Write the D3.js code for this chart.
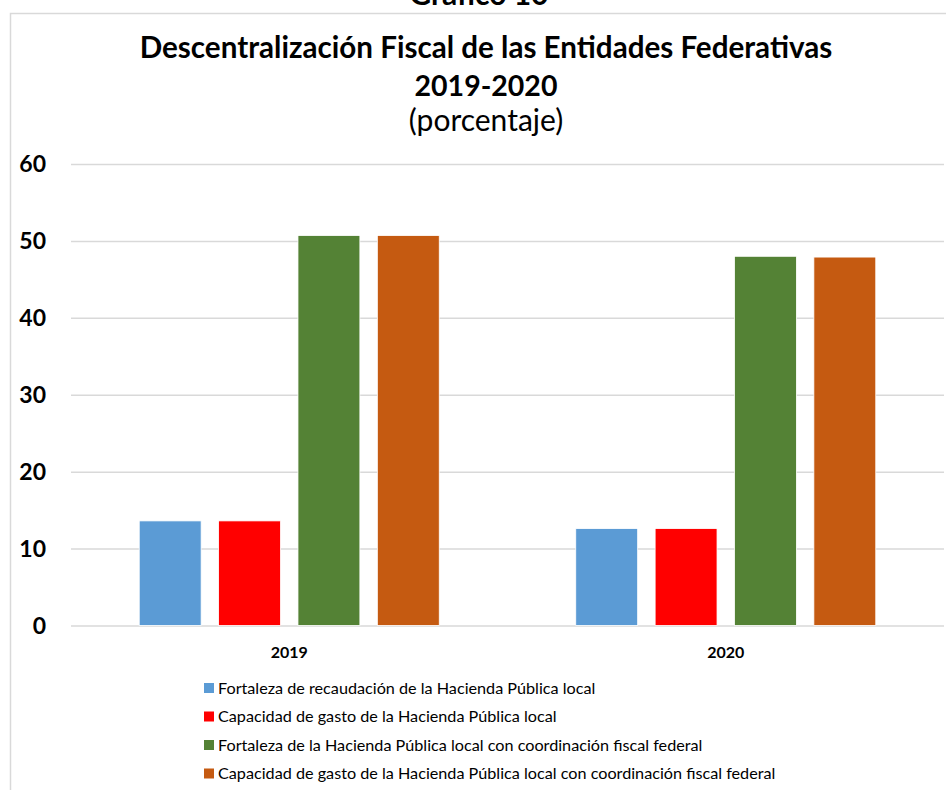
<!DOCTYPE html>
<html>
<head>
<meta charset="utf-8">
<script src="https://cdnjs.cloudflare.com/ajax/libs/d3/7.8.5/d3.min.js"></script>
<style>
  body { margin: 0; background: #fff; }
  svg { display: block; font-family: Lato, "Open Sans", sans-serif; }
  .grid line { stroke: #d9d9d9; stroke-width: 1.5; }
  .grid path { display: none; }
</style>
</head>
<body>
<div id="chart"></div>
<script>
// datos
var years = ["2019", "2020"];
var seriesNames = [
  "Fortaleza de recaudación de la Hacienda Pública local",
  "Capacidad de gasto de la Hacienda Pública local",
  "Fortaleza de la Hacienda Pública local con coordinación fiscal federal",
  "Capacidad de gasto de la Hacienda Pública local con coordinación fiscal federal"
];
var seriesColors = ["#5b9bd5", "#ff0000", "#548235", "#c55a11"];
var values2019 = [13.6, 13.6, 50.7, 50.7];
var values2020 = [12.6, 12.6, 48.0, 47.9];
var yTicks = [0, 10, 20, 30, 40, 50, 60];

var width = 946, height = 790;
var margin = {top: 164, right: 2, bottom: 164.5, left: 71};

var svg = d3.select("#chart").append("svg")
    .attr("width", width)
    .attr("height", height);

// marco del grafico
svg.append("path")
    .attr("d", "M10.5," + height + "V13.5H" + width)
    .attr("fill", "none")
    .attr("stroke", "#d9d9d9")
    .attr("stroke-width", 1.5);

// titulo de arriba, cortado por el borde (asi viene en el original)
svg.append("text")
    .attr("x", 479).attr("y", 5)
    .attr("text-anchor", "middle")
    .attr("font-weight", "bold")
    .attr("font-size", 30)
    .text("Gráfico 10");

var titles = [
  {t: "Descentralización Fiscal de las Entidades Federativas", y: 58, w: "bold", s: 29.6},
  {t: "2019-2020", y: 96, w: "bold", s: 28.5},
  {t: "(porcentaje)", y: 131, w: "normal", s: 30}
];
svg.selectAll("text.title")
  .data(titles)
  .enter().append("text")
    .attr("class", "title")
    .attr("x", 486)
    .attr("y", function(d) { return d.y; })
    .attr("text-anchor", "middle")
    .attr("font-weight", function(d) { return d.w; })
    .attr("font-size", function(d) { return d.s; })
    .attr("fill", "#000")
    .text(function(d) { return d.t; });

var x0 = d3.scaleBand()
    .domain(years)
    .range([margin.left, width - margin.right])
    .paddingInner(0.3127)
    .paddingOuter(0.1563);

var x1 = d3.scaleBand()
    .domain(d3.range(seriesNames.length))
    .range([0, x0.bandwidth()])
    .paddingInner(0.22)
    .paddingOuter(0);

var y = d3.scaleLinear()
    .domain([0, 60])
    .range([height - margin.bottom, margin.top]);

// lineas de cuadricula
svg.append("g")
    .attr("class", "grid")
    .attr("transform", "translate(" + margin.left + ",0)")
    .call(d3.axisLeft(y).tickValues(yTicks).tickSize(-(width - margin.right - margin.left)).tickFormat(""));

// etiquetas del eje y
svg.append("g")
  .selectAll("text")
  .data(yTicks)
  .enter().append("text")
    .attr("x", 46)
    .attr("y", function(d) { return y(d); })
    .attr("dy", "0.36em")
    .attr("text-anchor", "end")
    .attr("font-weight", "bold")
    .attr("font-size", 23)
    .text(function(d) { return d; });

var data = [values2019, values2020];

var groups = svg.append("g")
  .selectAll("g")
  .data(data)
  .enter().append("g")
    .attr("transform", function(d, i) { return "translate(" + x0(years[i]) + ",0)"; });

groups.selectAll("rect")
  .data(function(d) { return d; })
  .enter().append("rect")
    .attr("x", function(d, i) { return x1(i); })
    .attr("y", function(d) { return y(d); })
    .attr("width", x1.bandwidth())
    .attr("height", function(d) { return y(0) - y(d); })
    .attr("fill", function(d, i) { return seriesColors[i]; })
    .attr("stroke", "#fff")
    .attr("stroke-width", 0.8);

// etiquetas de categoria
svg.append("g")
  .selectAll("text")
  .data(years)
  .enter().append("text")
    .attr("x", function(d) { return x0(d) + x0.bandwidth() / 2; })
    .attr("y", 658)
    .attr("text-anchor", "middle")
    .attr("font-weight", "bold")
    .attr("font-size", 16)
    .text(function(d) { return d; });

// leyenda
var legend = svg.append("g")
  .selectAll("g")
  .data(seriesNames)
  .enter().append("g")
    .attr("transform", function(d, i) { return "translate(204," + (688 + i * 28.5) + ")"; });

legend.append("rect")
    .attr("x", 0).attr("y", -5)
    .attr("width", 10).attr("height", 10)
    .attr("fill", function(d, i) { return seriesColors[i]; });

legend.append("text")
    .attr("x", 14)
    .attr("dy", "0.35em")
    .attr("font-size", 16.2)
    .attr("fill", "#000")
    .text(function(d) { return d; });
</script>
</body>
</html>
